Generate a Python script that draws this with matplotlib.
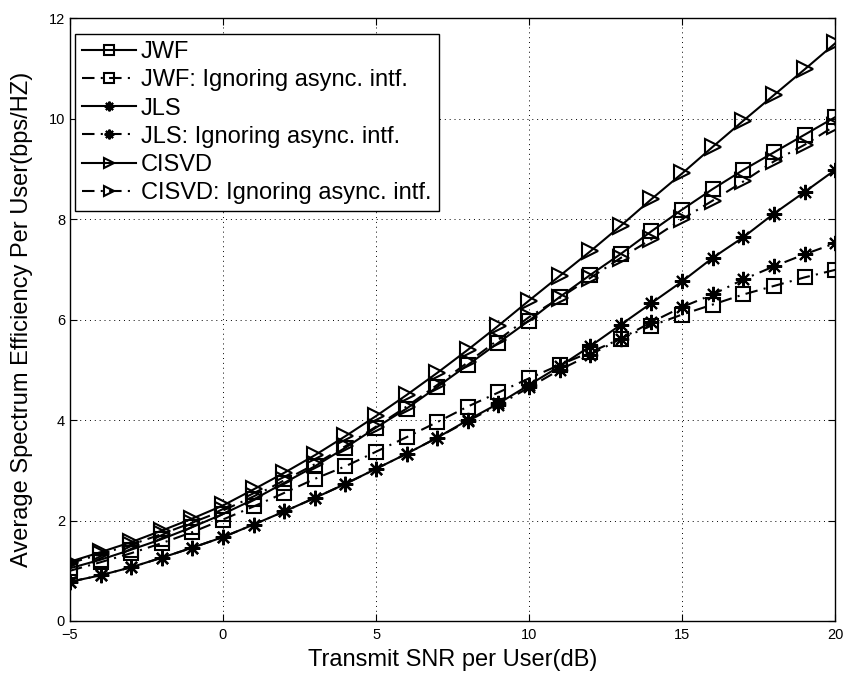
import matplotlib
matplotlib.use("Agg")
import matplotlib.pyplot as plt
import numpy as np

plt.rcParams['font.family'] = ['Liberation Sans', 'DejaVu Sans']

snr = list(range(-5, 21))

jwf = [1.05, 1.22, 1.42, 1.63, 1.87, 2.13, 2.42, 2.75, 3.08, 3.45, 3.85, 4.23, 4.66,
       5.10, 5.54, 5.98, 6.45, 6.89, 7.31, 7.76, 8.19, 8.60, 8.98, 9.33, 9.68, 10.03]
jwf_ign = [1.00, 1.17, 1.35, 1.55, 1.77, 2.02, 2.28, 2.55, 2.83, 3.08, 3.37, 3.66, 3.96,
           4.27, 4.55, 4.83, 5.10, 5.35, 5.62, 5.88, 6.10, 6.30, 6.50, 6.67, 6.84, 6.99]
jls = [0.78, 0.91, 1.07, 1.26, 1.46, 1.67, 1.92, 2.18, 2.45, 2.73, 3.03, 3.33, 3.65,
       4.00, 4.33, 4.70, 5.07, 5.47, 5.90, 6.33, 6.76, 7.23, 7.64, 8.11, 8.54, 8.98]
jls_ign = [0.78, 0.91, 1.07, 1.26, 1.46, 1.67, 1.92, 2.18, 2.45, 2.73, 3.03, 3.33, 3.65,
           3.98, 4.30, 4.65, 5.00, 5.30, 5.62, 5.95, 6.25, 6.50, 6.80, 7.06, 7.30, 7.52]
cisvd = [1.18, 1.37, 1.57, 1.80, 2.04, 2.30, 2.62, 2.95, 3.30, 3.68, 4.08, 4.50, 4.94,
         5.40, 5.88, 6.38, 6.87, 7.36, 7.87, 8.40, 8.91, 9.44, 9.96, 10.47, 10.98, 11.50]
cisvd_ign = [1.15, 1.33, 1.52, 1.73, 1.96, 2.20, 2.48, 2.80, 3.12, 3.48, 3.87, 4.27, 4.70,
             5.15, 5.60, 6.05, 6.43, 6.83, 7.23, 7.60, 8.00, 8.37, 8.75, 9.15, 9.48, 9.86]

labels = ['JWF', 'JWF: Ignoring async. intf.', 'JLS', 'JLS: Ignoring async. intf.',
          'CISVD', 'CISVD: Ignoring async. intf.']

fig = plt.figure(figsize=(8.47, 6.75), dpi=100)
ax = fig.add_axes([0.0826, 0.08, 0.9034, 0.893])

asterisk = (8, 2, 0)
dashdot = (0, (6, 3, 1, 3))
series = [
    (jwf, '-', 's', 10),
    (jwf_ign, dashdot, 's', 10),
    (jls, '-', asterisk, 11),
    (jls_ign, dashdot, asterisk, 11),
    (cisvd, '-', '>', 12),
    (cisvd_ign, dashdot, '>', 12),
]
for (vals, ls, mk, ms), lab in zip(series, labels):
    ax.plot(snr, vals, linestyle=ls, marker=mk, markersize=ms, color='black',
            markerfacecolor='none', markeredgecolor='black', markeredgewidth=1.5,
            linewidth=1.5, label=lab)

ax.set_xlim(-5, 20)
ax.set_ylim(0, 12)
ax.set_xticks([-5, 0, 5, 10, 15, 20])
ax.set_yticks([0, 2, 4, 6, 8, 10, 12])
ax.grid(True, linestyle=(0, (1, 4)), color='black', linewidth=0.7)
ax.tick_params(direction='in', top=True, right=True, labelsize=10.5, length=5)
ax.tick_params(axis='x', pad=5)
ax.set_xticklabels(['\u22125', '0', '5', '10', '15', '20'])
for s in ax.spines.values():
    s.set_linewidth(1.0)

ax.set_xlabel('Transmit SNR per User(dB)', fontsize=17, labelpad=5)
ax.set_ylabel('Average Spectrum Efficiency Per User(bps/HZ)', fontsize=17, labelpad=11)

leg = ax.legend(loc='upper left', bbox_to_anchor=(0.0065, 0.9735), borderaxespad=0,
                fontsize=17, handlelength=2.3, handletextpad=0.2,
                labelspacing=0.26, borderpad=0.3, fancybox=False, framealpha=1,
                edgecolor='black')
leg.get_frame().set_linewidth(1.0)
for h in leg.legend_handles:
    h.set_markersize(7)

fig.savefig('out.png', dpi=100)
